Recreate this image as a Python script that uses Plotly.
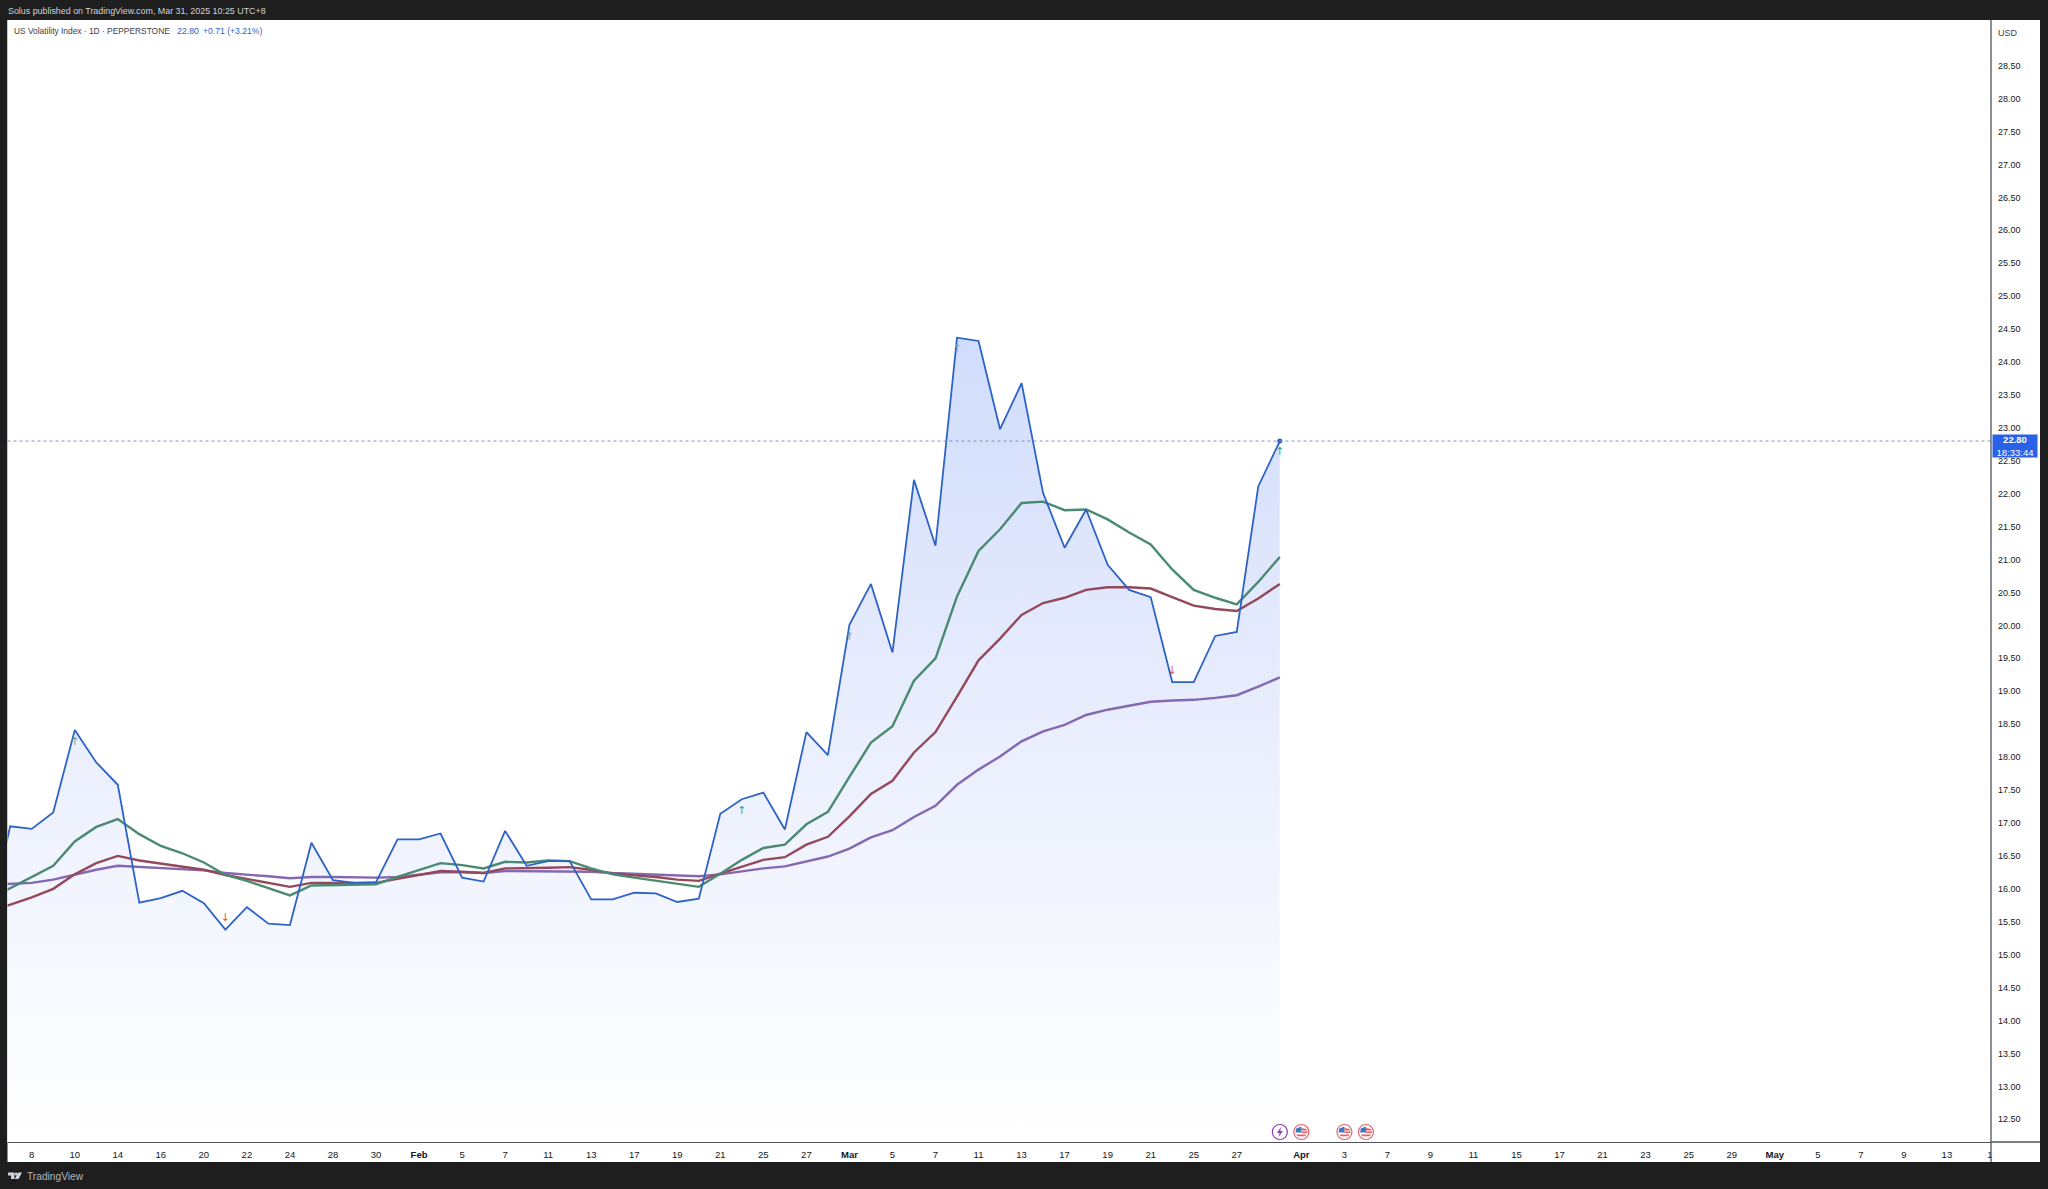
import pandas as pd
import plotly.graph_objects as go

W, H = 2048, 1189

first_bar = "2025-01-06"
last_visible_bar = "2025-05-15"
bar_days = [d.strftime("%Y-%m-%d") for d in pd.bdate_range(first_bar, last_visible_bar)]
plotted_days = bar_days[:61]

vix_close = [
    15.50, 16.95, 16.91, 17.16, 18.41, 17.92, 17.58, 15.79, 15.86, 15.97,
    15.78, 15.38, 15.72, 15.47, 15.45, 16.70, 16.13, 16.09, 16.10, 16.75,
    16.75, 16.84, 16.17, 16.11, 16.88, 16.35, 16.42, 16.42, 15.84, 15.84,
    15.94, 15.93, 15.80, 15.85, 17.14, 17.36, 17.46, 16.90, 18.38, 18.03,
    20.01, 20.63, 19.59, 22.21, 21.21, 24.37, 24.32, 22.98, 23.68, 22.01,
    21.18, 21.76, 20.92, 20.54, 20.43, 19.14, 19.14, 19.84, 19.90, 22.11,
    22.80,
]
ma_green = [
    15.84, 16.01, 16.17, 16.35, 16.72, 16.94, 17.06, 16.83, 16.65, 16.54,
    16.40, 16.21, 16.12, 16.01, 15.90, 16.05, 16.06, 16.07, 16.07, 16.18,
    16.29, 16.39, 16.36, 16.31, 16.41, 16.40, 16.43, 16.42, 16.31, 16.22,
    16.17, 16.12, 16.07, 16.03, 16.23, 16.44, 16.62, 16.67, 16.98, 17.17,
    17.70, 18.22, 18.47, 19.16, 19.50, 20.44, 21.13, 21.46, 21.86, 21.88,
    21.75, 21.76, 21.61, 21.41, 21.23, 20.85, 20.54, 20.42, 20.32, 20.66,
    21.04,
]
ma_red = [
    15.65, 15.76, 15.87, 16.00, 16.22, 16.39, 16.50, 16.43, 16.38, 16.34,
    16.29, 16.21, 16.15, 16.09, 16.03, 16.09, 16.09, 16.09, 16.09, 16.15,
    16.21, 16.27, 16.26, 16.24, 16.31, 16.31, 16.32, 16.33, 16.29, 16.23,
    16.21, 16.18, 16.14, 16.12, 16.23, 16.34, 16.44, 16.48, 16.67, 16.79,
    17.10, 17.44, 17.64, 18.07, 18.38, 18.92, 19.47, 19.80, 20.16, 20.34,
    20.42, 20.54, 20.58, 20.58, 20.56, 20.43, 20.30, 20.25, 20.22, 20.41,
    20.63,
]
ma_purple = [
    16.06, 16.07, 16.09, 16.14, 16.22, 16.29, 16.35, 16.33, 16.32, 16.30,
    16.28, 16.24, 16.22, 16.19, 16.16, 16.18, 16.18, 16.17, 16.17, 16.18,
    16.21, 16.25, 16.25, 16.24, 16.27, 16.27, 16.27, 16.27, 16.26, 16.24,
    16.23, 16.21, 16.20, 16.19, 16.22, 16.27, 16.31, 16.34, 16.42, 16.49,
    16.61, 16.78, 16.89, 17.09, 17.26, 17.58, 17.81, 18.01, 18.24, 18.39,
    18.49, 18.64, 18.72, 18.78, 18.84, 18.86, 18.87, 18.90, 18.94, 19.07,
    19.21,
]
assert len(vix_close) == len(ma_green) == len(ma_red) == len(ma_purple) == 61

signal_days = ["2025-01-10", "2025-01-21", "2025-02-24", "2025-03-03", "2025-03-10", "2025-03-24", "2025-03-31"]
signal_prices = [18.23, 15.55, 17.18, 19.82, 24.19, 19.31, 22.63]
signal_marks = ["↑", "↓", "↑", "↑", "↑", "↓", "↑"]
signal_colors = ["#5ea98a", "#e2565c", "#4f9c7d", "#6f9fb0", "#8a9fc4", "#e2565c", "#4f9c7d"]

tick_days = [
    "2025-01-08", "2025-01-10", "2025-01-14", "2025-01-16", "2025-01-20", "2025-01-22", "2025-01-24",
    "2025-01-28", "2025-01-30", "2025-02-03", "2025-02-05", "2025-02-07", "2025-02-11", "2025-02-13",
    "2025-02-17", "2025-02-19", "2025-02-21", "2025-02-25", "2025-02-27", "2025-03-03", "2025-03-05",
    "2025-03-07", "2025-03-11", "2025-03-13", "2025-03-17", "2025-03-19", "2025-03-21", "2025-03-25",
    "2025-03-27", "2025-04-01", "2025-04-03", "2025-04-07", "2025-04-09", "2025-04-11", "2025-04-15",
    "2025-04-17", "2025-04-21", "2025-04-23", "2025-04-25", "2025-04-29", "2025-05-01", "2025-05-05",
    "2025-05-07", "2025-05-09", "2025-05-13", "2025-05-15",
]
tick_text = [
    "8", "10", "14", "16", "20", "22", "24", "28", "30", "<b>Feb</b>", "5", "7", "11", "13", "17", "19",
    "21", "25", "27", "<b>Mar</b>", "5", "7", "11", "13", "17", "19", "21", "25", "27", "<b>Apr</b>",
    "3", "7", "9", "11", "15", "17", "21", "23", "25", "29", "<b>May</b>", "5", "7", "9", "13", "1",
]
price_ticks = [12.5 + 0.5 * i for i in range(33)]
price_text = [f"{p:.2f}" for p in price_ticks]
flag_event_days = ["2025-04-01", "2025-04-03", "2025-04-04"]
power_event_day = "2025-03-31"

LEFT, RIGHT, TOP, BOTTOM = 7.5, 1991.0, 20.0, 1142.0
FONT = "Liberation Sans, sans-serif"
DARK = "#1e1e1e"
INK = "#131722"
AXIS = "#50535e"


def px(x):
    return x / W


def py(y):
    return 1 - y / H


def xpos(day):
    return 31.7 + (bar_days.index(day) - 2) * 21.52


fig = go.Figure()
fig.add_trace(go.Scatter(
    x=plotted_days, y=vix_close, mode="lines", line=dict(width=0), fill="tozeroy",
    fillgradient=dict(type="vertical", start=12.2, stop=24.4,
                      colorscale=[[0, "#ffffff"], [0.35, "#f1f4fe"], [0.65, "#e3e9fd"], [1, "#cfdcfb"]]),
    hoverinfo="skip", showlegend=False,
))
for values, color in [(ma_purple, "#8468b0"), (ma_red, "#93495a"), (ma_green, "#4a8a70")]:
    fig.add_trace(go.Scatter(x=plotted_days, y=values, mode="lines", line=dict(color=color, width=2.4),
                             hoverinfo="skip", showlegend=False))
fig.add_trace(go.Scatter(x=plotted_days, y=vix_close, mode="lines", line=dict(color="#2d62c8", width=1.8),
                         hoverinfo="skip", showlegend=False))
fig.add_trace(go.Scatter(x=plotted_days[-1:], y=vix_close[-1:], mode="markers",
                         marker=dict(color="#2a5fd8", size=5), hoverinfo="skip", showlegend=False))
fig.add_trace(go.Scatter(x=signal_days, y=signal_prices, mode="text", text=signal_marks,
                         textfont=dict(color=signal_colors, size=11, family="DejaVu Sans"),
                         textposition="middle center", hoverinfo="skip", showlegend=False))

shapes = [
    dict(type="rect", xref="paper", yref="paper", x0=px(LEFT), x1=px(2040), y0=py(1162), y1=py(TOP),
         fillcolor="#ffffff", line_width=0, layer="below"),
    dict(type="line", xref="paper", yref="y", x0=px(LEFT), x1=px(RIGHT), y0=vix_close[-1], y1=vix_close[-1],
         line=dict(color="#7f93bd", width=1, dash="dot")),
    dict(type="line", xref="paper", yref="paper", x0=px(RIGHT), x1=px(2040), y0=py(BOTTOM), y1=py(BOTTOM),
         line=dict(color=AXIS, width=1.3)),
    dict(type="line", xref="paper", yref="paper", x0=px(RIGHT), x1=px(RIGHT), y0=py(1162), y1=py(TOP),
         line=dict(color=AXIS, width=1.3)),
]


def circle(cx, cy, r, **kw):
    return dict(type="circle", xref="paper", yref="paper", x0=px(cx - r), x1=px(cx + r),
                y0=py(cy + r), y1=py(cy - r), **kw)


def poly(points, **kw):
    d = "M " + " L ".join(f"{px(a):.5f},{py(b):.5f}" for a, b in points) + " Z"
    return dict(type="path", xref="paper", yref="paper", path=d, **kw)


for day in flag_event_days:
    cx, cy = xpos(day), 1132
    shapes.append(circle(cx, cy, 7.5, fillcolor="#ffffff", line=dict(color="#e0666c", width=1.2)))
    shapes.append(poly([(cx - 5.2, cy - 3.6), (cx, cy - 5.4), (cx, cy + 0.6), (cx - 5.8, cy + 0.6)],
                       fillcolor="#3b78c8", line_width=0))
    shapes.append(poly([(cx, cy - 4.0), (cx + 5.2, cy - 3.0), (cx + 5.8, cy - 1.6), (cx, cy - 1.6)],
                       fillcolor="#e0666c", line_width=0))
    shapes.append(poly([(cx, cy - 0.6), (cx + 6, cy - 0.6), (cx + 6, cy + 1), (cx, cy + 1)],
                       fillcolor="#e0666c", line_width=0))
    shapes.append(poly([(cx - 5, cy + 2.6), (cx + 5, cy + 2.6), (cx + 4, cy + 4.2), (cx - 4, cy + 4.2)],
                       fillcolor="#e0666c", line_width=0))

cx, cy = xpos(power_event_day), 1132
shapes.append(circle(cx, cy, 7.5, fillcolor="#ffffff", line=dict(color="#8e3fb0", width=1.2)))
shapes.append(poly([(cx + 1.2, cy - 5), (cx - 3, cy + 1), (cx - 0.4, cy + 1), (cx - 1.2, cy + 5),
                    (cx + 3, cy - 1), (cx + 0.4, cy - 1)], fillcolor="#8e3fb0", line_width=0))

# TradingView logo
shapes.append(poly([(8, 1172.5), (14.5, 1172.5), (14.5, 1179), (11, 1179), (11, 1175.5), (8, 1175.5)],
                   fillcolor="#d1d4dc", line_width=0))
shapes.append(circle(16.2, 1174, 1.5, fillcolor="#d1d4dc", line_width=0))
shapes.append(poly([(18.2, 1172.5), (22, 1172.5), (18.5, 1179), (14.8, 1179)], fillcolor="#d1d4dc", line_width=0))


def note(x, y, text, size=10, color=INK, anchor="left", **kw):
    return dict(xref="paper", yref="paper", x=px(x), y=py(y), text=text, showarrow=False,
                xanchor=anchor, yanchor="middle", font=dict(family=FONT, size=size, color=color), **kw)


annotations = [
    note(6, 11, "Solus published on TradingView.com, Mar 31, 2025 10:25 UTC+8", size=8.9, color="#d1d4dc"),
    note(12, 31, "US Volatility Index · 1D · PEPPERSTONE", size=8.4, color="#3a3e4a"),
    note(175, 31, "22.80", size=8.8, color="#2f62c9"),
    note(201, 31, "+0.71 (+3.21%)", size=8.6, color="#2f62c9"),
    note(2008, 33, "USD", size=9, color="#3a3e4a", anchor="center"),
    note(2014.5, 446, "<b>22.80</b><br>18:33:44", size=9.5, color="#ffffff",
         anchor="center", bgcolor="#2962e8", width=44, height=22, borderpad=0, align="center"),
    note(25, 1176, "TradingView", size=10.2, color="#b2b5be"),
]

fig.update_layout(
    width=W, height=H, margin=dict(l=0, r=0, t=0, b=0, autoexpand=False), autosize=False,
    paper_bgcolor=DARK, plot_bgcolor="#ffffff", hovermode=False, showlegend=False,
    font=dict(family=FONT, size=10, color=INK),
    shapes=shapes, annotations=annotations,
    xaxis=dict(type="category", categoryorder="array", categoryarray=bar_days, automargin=False,
               domain=[px(LEFT), px(RIGHT)], range=[0.875, 93.05],
               tickmode="array", tickvals=tick_days, ticktext=tick_text, tickangle=0,
               showgrid=False, zeroline=False, ticks="", showline=True, linecolor=AXIS, linewidth=1.3,
               ticklabelstandoff=3, tickfont=dict(family=FONT, size=9.5, color=INK)),
    yaxis=dict(domain=[py(BOTTOM), py(TOP)], range=[12.155, 29.194], side="right", automargin=False,
               tickmode="array", tickvals=price_ticks, ticktext=price_text,
               showgrid=False, zeroline=False, ticks="", showline=False,
               ticklabelstandoff=6, tickfont=dict(family=FONT, size=9, color=INK)),
)

fig.write_html("out.html", config={"displayModeBar": False},
               post_script="document.body.style.margin='0';document.body.style.overflow='hidden';")
